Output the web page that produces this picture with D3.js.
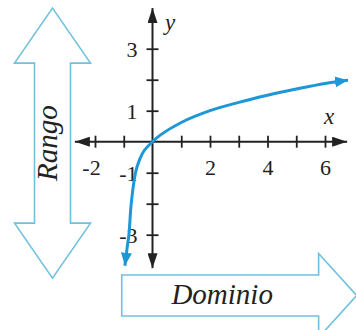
<!DOCTYPE html>
<html>
<head>
<meta charset="utf-8">
<script src="https://cdn.jsdelivr.net/npm/d3@7"></script>
<style>
  body { margin: 0; background: #fff; }
  svg { display: block; }
  text { font-family: "Liberation Serif", "Times New Roman", Times, serif; }
</style>
</head>
<body>
<svg id="chart"></svg>
<script>
// values
const curveX = [-0.96, -0.88, -0.82, -0.74, -0.59, -0.45, -0.3, 0, 0.28, 1, 2, 3, 4, 5, 6, 6.8];
const curveY = [-4.0, -3.4, -3.0, -2.0, -1.0, -0.58, -0.3, 0, 0.22, 0.62, 1.0, 1.27, 1.5, 1.7, 1.88, 1.98];
const xTicks = [-2, -1, 1, 2, 3, 4, 5, 6];
const xTickLabels = [-2, 2, 4, 6];
const yTicks = [-3, -2, -1, 1, 2, 3];
const yTickLabels = [-3, -1, 1, 3];
const xAxisExtent = [-2.7, 6.77];
const yAxisExtent = [-4.08, 4.31];
const rangoSpan = [-4.4, 4.31];     // y values covered by the "Rango" arrow
const dominioSpan = [-1.07, 7.1];   // x values covered by the "Dominio" arrow

const width = 356, height = 330;
const blue = '#1d97d5', pale = '#6fc1dd', ink = '#222';

const svg = d3.select('#chart').attr('width', width).attr('height', height);

const x = d3.scaleLinear().domain([-2, 6]).range([95, 325]);
const y = d3.scaleLinear().domain([-3, 3]).range([234.7, 48.7]);

const defs = svg.append('defs');
function arrowMarker(id, color, len, wid) {
    defs.append('marker')
        .attr('id', id)
        .attr('markerUnits', 'userSpaceOnUse')
        .attr('viewBox', `0 ${-wid / 2} ${len} ${wid}`)
        .attr('refX', len).attr('refY', 0)
        .attr('markerWidth', len).attr('markerHeight', wid)
        .attr('orient', 'auto-start-reverse')
        .append('path')
        .attr('d', `M0,${-wid / 2}L${len},0L0,${wid / 2}Z`)
        .attr('fill', color);
}
arrowMarker('axisArrow', ink, 15, 10);
arrowMarker('curveArrow', blue, 13, 11);

// Rango arrow (vertical, double headed)
{
    const cx = 52.5, shaftHalf = 18, headHalf = 38, headLen = 55;
    const top = y(rangoSpan[1]), bot = y(rangoSpan[0]);
    const pts = [
        [cx, top], [cx + headHalf, top + headLen], [cx + shaftHalf, top + headLen],
        [cx + shaftHalf, bot - headLen], [cx + headHalf, bot - headLen], [cx, bot],
        [cx - headHalf, bot - headLen], [cx - shaftHalf, bot - headLen],
        [cx - shaftHalf, top + headLen], [cx - headHalf, top + headLen]
    ];
    svg.append('polygon')
        .attr('points', pts.map(p => p.join(',')).join(' '))
        .attr('fill', '#fff').attr('stroke', pale).attr('stroke-width', 1.6);
    svg.append('text')
        .attr('transform', `translate(57, ${(top + bot) / 2}) rotate(-90)`)
        .attr('text-anchor', 'middle')
        .attr('font-style', 'italic')
        .attr('font-size', 29).attr('fill', '#222')
        .text('Rango');
}

// Dominio arrow (horizontal)
{
    const cy = 295.5, shaftHalf = 20.5, headHalf = 42, headLen = 38;
    const left = x(dominioSpan[0]), tip = x(dominioSpan[1]);
    const pts = [
        [left, cy - shaftHalf], [tip - headLen, cy - shaftHalf], [tip - headLen, cy - headHalf],
        [tip, cy], [tip - headLen, cy + headHalf], [tip - headLen, cy + shaftHalf],
        [left, cy + shaftHalf]
    ];
    svg.append('polygon')
        .attr('points', pts.map(p => p.join(',')).join(' '))
        .attr('fill', '#fff').attr('stroke', pale).attr('stroke-width', 1.6);
    svg.append('text')
        .attr('x', (left + tip - headLen) / 2 + 2).attr('y', 304)
        .attr('text-anchor', 'middle')
        .attr('font-style', 'italic')
        .attr('font-size', 29).attr('fill', '#222')
        .text('Dominio');
}

// axes lines with arrowheads
function axisLine(x1, y1, x2, y2) {
    svg.append('line')
        .attr('x1', x1).attr('y1', y1).attr('x2', x2).attr('y2', y2)
        .attr('stroke', ink).attr('stroke-width', 2)
        .attr('marker-end', 'url(#axisArrow)');
}
axisLine(x(0), y(0), x(xAxisExtent[1]), y(0));
axisLine(x(0), y(0), x(xAxisExtent[0]), y(0));
axisLine(x(0), y(0), x(0), y(yAxisExtent[1]));
axisLine(x(0), y(0), x(0), y(yAxisExtent[0]));

// tick marks + labels through d3 axes
const xaxis = d3.axisBottom(x)
    .tickValues(xTicks)
    .tickFormat(d => xTickLabels.includes(d) ? d : '')
    .tickSizeOuter(0);
const xg = svg.append('g').attr('transform', `translate(0, ${y(0)})`).call(xaxis);
xg.select('.domain').remove();
xg.selectAll('.tick line').attr('y1', -6).attr('y2', 6).attr('stroke', ink).attr('stroke-width', 1.8);
xg.selectAll('.tick text')
    .attr('y', 33).attr('dy', null)
    .attr('font-family', null).attr('font-size', 22).attr('fill', '#222')
    .attr('dx', d => d < 0 ? -4 : 0);

const yaxis = d3.axisLeft(y)
    .tickValues(yTicks)
    .tickFormat(d => yTickLabels.includes(d) ? d : '')
    .tickSizeOuter(0);
const yg = svg.append('g').attr('transform', `translate(${x(0)}, 0)`).call(yaxis);
yg.select('.domain').remove();
yg.selectAll('.tick line').attr('x1', -6).attr('x2', 6).attr('stroke', ink).attr('stroke-width', 1.8);
yg.selectAll('.tick text')
    .attr('x', -15).attr('dy', '0.34em')
    .attr('font-family', null).attr('font-size', 22).attr('fill', '#222');
xg.attr('font-family', null);
yg.attr('font-family', null);

// axis names
svg.append('text')
    .attr('x', 165).attr('y', 30)
    .attr('font-style', 'italic')
    .attr('font-size', 23).attr('fill', '#222')
    .text('y');
svg.append('text')
    .attr('x', 324).attr('y', 124)
    .attr('font-style', 'italic')
    .attr('font-size', 23).attr('fill', '#222')
    .text('x');

// the curve
const pts = curveX.map((v, i) => [v, curveY[i]]);
const line = d3.line()
    .x(d => x(d[0]))
    .y(d => y(d[1]))
    .curve(d3.curveCatmullRom.alpha(0.5));
svg.append('path')
    .datum(pts)
    .attr('d', line)
    .attr('fill', 'none')
    .attr('stroke', blue)
    .attr('stroke-width', 3)
    .attr('marker-start', 'url(#curveArrow)')
    .attr('marker-end', 'url(#curveArrow)');
</script>
</body>
</html>
